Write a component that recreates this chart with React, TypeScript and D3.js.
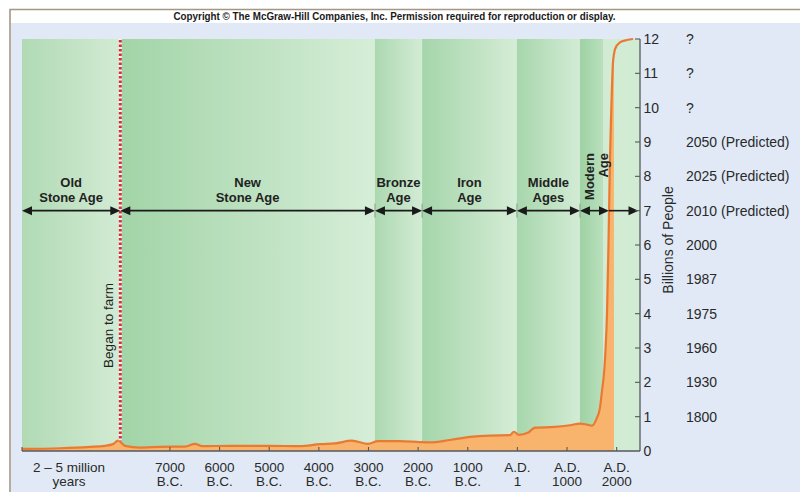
import React from "react";
import * as d3 from "d3";

const W = 800;
const H = 492;

// Eras shown with double-headed arrows at the 7-billion line
const eraNames: string[][] = [
  ["Old", "Stone Age"],
  ["New", "Stone Age"],
  ["Bronze", "Age"],
  ["Iron", "Age"],
  ["Middle", "Ages"],
  ["Modern", "Age"],
];
const eraStarts = [-2000000, -8000, -2870, -1920, -10, 1260];
const eraEnds = [-8000, -2870, -1920, -10, 1260, 1845];
const presentArrowEnd = 2440;

// Background bands (one per era plus the present)
const bandStarts = [-2000000, -8000, -2870, -1920, -10, 1260, 1730];
const bandEnds = [-8000, -2870, -1920, -10, 1260, 1730, 2470];

// World population (billions) through time
const popYears = [
  -2000000, -1230000, -620000, -320000, -156000, -54000, -7905, -7600, -7200, -6700,
  -6495, -6350, -5790, -4985, -4380, -3975, -3675, -3335, -3010, -2810,
  -2365, -1965, -1760, -1360, -955, -555, -150, -70, 30, 210,
  355, 755, 1060, 1260, 1400, 1500, 1600, 1665, 1705, 1745,
  1775, 1805, 1835, 1865, 1885, 1925, 1945, 1965, 2065, 2205, 2330,
];
const popValues = [
  0.06, 0.08, 0.12, 0.15, 0.2, 0.3, 0.15, 0.1, 0.12, 0.13,
  0.21, 0.14, 0.15, 0.15, 0.14, 0.2, 0.22, 0.3, 0.21, 0.29,
  0.29, 0.26, 0.25, 0.32, 0.41, 0.45, 0.46, 0.56, 0.47, 0.53,
  0.68, 0.7, 0.75, 0.8, 0.77, 0.74, 0.96, 1.27, 1.76, 2.26,
  2.93, 4, 6, 8.5, 9.6, 11.3, 11.55, 11.7, 11.9, 11.97, 12,
];
const fillEndYear = 1945;
const farmYear = -8000;

// Axes
const valueTicks = [0, 1, 2, 3, 4, 5, 6, 7, 8, 9, 10, 11, 12];
const valueYearLabels = [
  "", "1800", "1930", "1960", "1975", "1987", "2000",
  "2010 (Predicted)", "2025 (Predicted)", "2050 (Predicted)", "?", "?", "?",
];
const timeTicks = [-7000, -6000, -5000, -4000, -3000, -2000, -1000, 0, 1000, 2000];
const timeLine1 = ["7000", "6000", "5000", "4000", "3000", "2000", "1000", "A.D.", "A.D.", "A.D."];
const timeLine2 = ["B.C.", "B.C.", "B.C.", "B.C.", "B.C.", "B.C.", "B.C.", "1", "1000", "2000"];
const deepTimeLabel = ["2 \u2013 5 million", "years"];

const bandDark = ["#b0dab4", "#a2d4a7", "#acd8b0", "#a5d5aa", "#a7d6ac", "#9ed2a4", "#d2ebd3"];
const bandLight = ["#d3ebd4", "#d6eed8", "#d3ecd5", "#d5edd6", "#d3ecd5", "#b9e0bc", "#d2ebd3"];

const FONT = "'Liberation Sans', Arial, Helvetica, sans-serif";

export default function App() {
  const left = 22;
  const right = 640;
  const top = 39;
  const bottom = 451;

  const x = d3
    .scaleLinear()
    .domain([-2000000, -8000, 2470])
    .range([left, 120.3, right]);
  const y = d3.scaleLinear().domain([0, 12]).range([bottom, top]);

  const pts: [number, number][] = popYears.map((yr, i) => [yr, popValues[i]]);
  const fillPts = pts.filter((p) => p[0] <= fillEndYear);

  const area = d3
    .area<[number, number]>()
    .x((d) => x(d[0]))
    .y0(y(0))
    .y1((d) => y(d[1]))
    .curve(d3.curveMonotoneX);
  const line = d3
    .line<[number, number]>()
    .x((d) => x(d[0]))
    .y((d) => y(d[1]))
    .curve(d3.curveMonotoneX);

  const arrowY = y(7);
  const head = (tip: number, dir: number) =>
    `M${tip},${arrowY} L${tip + dir * 10},${arrowY - 4.5} L${tip + dir * 10},${arrowY + 4.5} Z`;

  const farmX = x(farmYear);

  return (
    <svg
      width={W}
      height={H}
      viewBox={`0 0 ${W} ${H}`}
      style={{ position: "absolute", left: 0, top: 0, background: "#ffffff" }}
      fontFamily={FONT}
    >
      <defs>
        {bandStarts.map((_, i) => (
          <linearGradient key={i} id={`band${i}`} x1="0" x2="1" y1="0" y2="0">
            <stop offset="0" stopColor={bandDark[i]} />
            <stop offset="1" stopColor={bandLight[i]} />
          </linearGradient>
        ))}
      </defs>

      {/* frame and panel */}
      <rect x={10} y={10} width={W - 10} height={H - 10} fill="#ffffff" />
      <rect x={11} y={23} width={W - 11} height={H - 23} fill="#e0e9f5" />
      <path d={`M10,${H} L10,9.5 L${W},9.5`} fill="none" stroke="#a59684" strokeWidth={1.6} />

      <text
        x={394.5}
        y={19.5}
        textAnchor="middle"
        fontSize={10}
        fontWeight="bold"
        fontFamily="'Liberation Sans Narrow', 'Liberation Sans', Arial, sans-serif"
        textLength={442}
        lengthAdjust="spacingAndGlyphs"
        fill="#1a1a1a"
      >
        Copyright © The McGraw-Hill Companies, Inc. Permission required for reproduction or display.
      </text>

      {/* era background bands */}
      {bandStarts.map((s, i) => (
        <rect
          key={i}
          x={x(s)}
          y={top}
          width={x(bandEnds[i]) - x(s)}
          height={bottom - top}
          fill={`url(#band${i})`}
        />
      ))}

      {/* population */}
      <path d={area(fillPts) || ""} fill="#f8b46c" />
      <path d={line(pts) || ""} fill="none" stroke="#ea7a32" strokeWidth={2.2} />

      {/* farming begins */}
      <line x1={farmX} x2={farmX} y1={top} y2={y(0.28)} stroke="#ffffff" strokeOpacity={0.75} strokeWidth={3.2} />
      <line
        x1={farmX}
        x2={farmX}
        y1={top + 1}
        y2={y(0.28)}
        stroke="#d62f38"
        strokeWidth={3}
        strokeDasharray="2.6,1.9"
      />
      <text
        transform={`translate(113,325.5) rotate(-90)`}
        textAnchor="middle"
        fontSize={13.5}
        fill="#222"
      >
        Began to farm
      </text>

      {/* era arrows */}
      {eraStarts.map((s, i) => {
        const x0 = x(s);
        const x1 = x(eraEnds[i]);
        return (
          <g key={i}>
            <line x1={x0 + 6} x2={x1 - 6} y1={arrowY} y2={arrowY} stroke="#1a1a1a" strokeWidth={1.6} />
            <path d={head(x0, 1)} fill="#1a1a1a" />
            <path d={head(x1, -1)} fill="#1a1a1a" />
          </g>
        );
      })}
      <line
        x1={x(eraEnds[eraEnds.length - 1])}
        x2={x(presentArrowEnd) - 6}
        y1={arrowY}
        y2={arrowY}
        stroke="#1a1a1a"
        strokeWidth={1.6}
      />
      <path d={head(x(presentArrowEnd), -1)} fill="#1a1a1a" />
      {eraStarts.slice(2).map((s, i) => (
        <line key={i} x1={x(s)} x2={x(s)} y1={arrowY - 7} y2={arrowY + 7} stroke="#7d8f80" strokeWidth={0.8} />
      ))}

      {/* era labels */}
      {eraNames.slice(0, 5).map((nm, i) => {
        const cx = (x(eraStarts[i]) + x(eraEnds[i])) / 2;
        return (
          <text key={i} textAnchor="middle" fontSize={13} fontWeight="bold" fill="#222">
            <tspan x={cx} y={187}>
              {nm[0]}
            </tspan>
            <tspan x={cx} y={202}>
              {nm[1]}
            </tspan>
          </text>
        );
      })}
      <text transform={`translate(593.5,153) rotate(-90)`} textAnchor="end" fontSize={13} fontWeight="bold" fill="#222">
        {eraNames[5][0]}
      </text>
      <text transform={`translate(608,153) rotate(-90)`} textAnchor="end" fontSize={13} fontWeight="bold" fill="#222">
        {eraNames[5][1]}
      </text>

      {/* value axis */}
      <line x1={right} x2={right} y1={top} y2={bottom} stroke="#55595c" strokeWidth={1.3} />
      {valueTicks.map((v) => (
        <g key={v}>
          {v > 0 && <line x1={right - 5} x2={right} y1={y(v)} y2={y(v)} stroke="#55595c" strokeWidth={1.1} />}
          <text x={643.5} y={y(v) + 5} fontSize={14} fill="#2a2a2a">
            {v}
          </text>
          {valueYearLabels[v] && (
            <text x={686} y={y(v) + 5} fontSize={14} fill="#2a2a2a">
              {valueYearLabels[v]}
            </text>
          )}
        </g>
      ))}
      <text transform={`translate(673,240) rotate(-90)`} textAnchor="middle" fontSize={14} fill="#2a2a2a">
        Billions of People
      </text>

      {/* time axis */}
      <line x1={left} x2={right} y1={bottom} y2={bottom} stroke="#55595c" strokeWidth={1.3} />
      <line x1={left} x2={left} y1={bottom - 4} y2={bottom} stroke="#55595c" strokeWidth={1.1} />
      {timeTicks.map((t, i) => (
        <g key={t}>
          <line x1={x(t)} x2={x(t)} y1={bottom - 4} y2={bottom} stroke="#55595c" strokeWidth={1.1} />
          <text textAnchor="middle" fontSize={13.5} fill="#2a2a2a">
            <tspan x={x(t)} y={471.5}>
              {timeLine1[i]}
            </tspan>
            <tspan x={x(t)} y={486}>
              {timeLine2[i]}
            </tspan>
          </text>
        </g>
      ))}
      <text textAnchor="middle" fontSize={13.5} fill="#2a2a2a">
        <tspan x={69} y={471.5}>
          {deepTimeLabel[0]}
        </tspan>
        <tspan x={69} y={486}>
          {deepTimeLabel[1]}
        </tspan>
      </text>
    </svg>
  );
}
